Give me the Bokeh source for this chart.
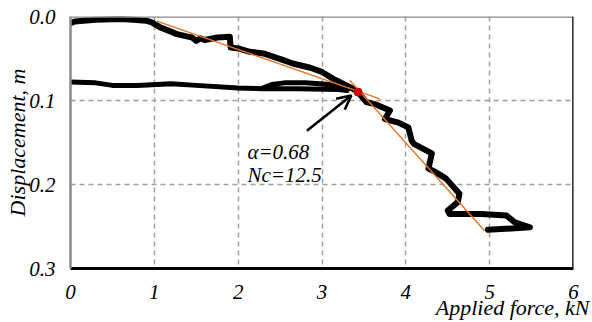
from bokeh.plotting import figure
from bokeh.models import (Range1d, FixedTicker, PrintfTickFormatter, Span, Label,
                          Arrow, OpenHead, Title)
from bokeh.embed import file_html
from bokeh.resources import INLINE

# ---- data ----
upper_force = [0.0, 0.05, 0.3, 0.6, 0.75, 0.9, 0.97, 1.07, 1.2, 1.27, 1.4, 1.45, 1.5, 1.55,
               1.6, 1.75, 1.9, 1.91, 2.0, 2.14, 2.3, 2.54, 2.65, 2.86, 3.0, 3.13, 3.25, 3.37,
               3.43, 3.53, 3.65, 3.81, 3.75, 3.9, 4.03, 4.07, 4.1, 4.31, 4.27, 4.35, 4.48,
               4.64, 4.62, 4.5, 4.52, 4.9, 5.2, 5.3, 5.48, 4.98]
upper_disp = [0.008, 0.006, 0.004, 0.003, 0.004, 0.005, 0.007, 0.013, 0.018, 0.021, 0.024,
              0.025, 0.029, 0.026, 0.028, 0.025, 0.024, 0.037, 0.038, 0.042, 0.044, 0.052,
              0.056, 0.061, 0.066, 0.074, 0.080, 0.086, 0.090, 0.102, 0.105, 0.112, 0.122,
              0.126, 0.132, 0.148, 0.152, 0.163, 0.181, 0.185, 0.193, 0.211, 0.221, 0.231,
              0.235, 0.235, 0.237, 0.245, 0.251, 0.254]

lower_force = [0.0, 0.3, 0.5, 0.8, 1.2, 1.5, 2.0, 2.3, 2.7, 3.2, 3.3, 3.1, 2.8, 2.55, 2.4, 2.3]
lower_disp = [0.078, 0.079, 0.082, 0.082, 0.080, 0.082, 0.085, 0.086, 0.086, 0.087, 0.088,
              0.081, 0.079, 0.079, 0.081, 0.085]

fit1_force = [1.03, 3.69]
fit1_disp = [0.0056, 0.098]
fit2_force = [3.33, 4.94]
fit2_disp = [0.076, 0.255]

point_force = [3.43]
point_disp = [0.090]

arrow_from = (2.82, 0.136)
arrow_to = (3.35, 0.094)

x_ticks = [0, 1, 2, 3, 4, 5, 6]
y_ticks = [0.0, 0.1, 0.2, 0.3]

FONT = "Liberation Serif"

p = figure(width=592, height=322, output_backend="svg", toolbar_location=None,
           x_range=Range1d(0, 6), y_range=Range1d(0.3, 0.0))
p.min_border_left = 70
p.min_border_right = 19
p.min_border_top = 16
p.min_border_bottom = 54
p.outline_line_color = None
p.background_fill_color = "white"

# axes
xa = p.xaxis[0]
ya = p.yaxis[0]
xa.ticker = FixedTicker(ticks=x_ticks)
ya.ticker = FixedTicker(ticks=y_ticks)
ya.formatter = PrintfTickFormatter(format="%.1f")
for ax in (xa, ya):
    ax.major_tick_line_color = None
    ax.minor_tick_line_color = None
    ax.major_tick_out = 0
    ax.major_tick_in = 0
    ax.major_label_text_font = FONT
    ax.major_label_text_font_style = "italic"
    ax.major_label_text_font_size = "21px"
    ax.major_label_text_color = "black"
xa.axis_line_color = "black"
xa.axis_line_width = 3
xa.major_label_standoff = 16
ya.axis_line_color = "#8a8a8a"
ya.axis_line_width = 2.5
ya.major_label_standoff = 15
ya.axis_label = "Displacement, m"
ya.axis_label_text_font = FONT
ya.axis_label_text_font_style = "italic"
ya.axis_label_text_font_size = "22px"
ya.axis_label_text_color = "black"
ya.axis_label_standoff = -4

# x axis title, right aligned below the tick labels
p.add_layout(Title(text="Applied force, kN", align="right", offset=-16, standoff=-17,
                   text_font=FONT, text_font_style="italic", text_font_size="22px",
                   text_color="black"), "below")

# grid
for g in (p.xgrid[0], p.ygrid[0]):
    g.grid_line_color = "#a0a0a0"
    g.grid_line_dash = "5 4"
    g.grid_line_width = 1.5
p.xgrid[0].ticker = FixedTicker(ticks=x_ticks[1:-1])
p.ygrid[0].ticker = FixedTicker(ticks=y_ticks[1:-1])

# borders top/right
p.add_layout(Span(location=0.0, dimension="width", line_color="#8a8a8a", line_width=2.5))
p.add_layout(Span(location=6.0, dimension="height", line_color="black", line_width=2.5))

# data
p.line(upper_force, upper_disp, line_color="black", line_width=6, line_join="round",
       line_cap="round")
p.line(lower_force, lower_disp, line_color="black", line_width=5, line_join="round",
       line_cap="round")
p.line(fit1_force, fit1_disp, line_color="#E8742A", line_width=1.4)
p.line(fit2_force, fit2_disp, line_color="#E8742A", line_width=1.4)
p.scatter(point_force, point_disp, size=8, fill_color="#CC0000", line_color="#CC0000")

p.add_layout(Arrow(end=OpenHead(size=14, line_width=2.5, line_color="black"),
                   x_start=arrow_from[0], y_start=arrow_from[1],
                   x_end=arrow_to[0], y_end=arrow_to[1],
                   line_width=2.5, line_color="black"))

for txt, yy in (("\u03b1=0.68", 0.161), ("Nc=12.5", 0.189)):
    p.add_layout(Label(x=2.11, y=yy, text=txt, text_font=FONT, text_font_style="italic",
                       text_font_size="21px", text_baseline="alphabetic",
                       text_color="black"))

open("out.html", "w").write(file_html(p, INLINE))
